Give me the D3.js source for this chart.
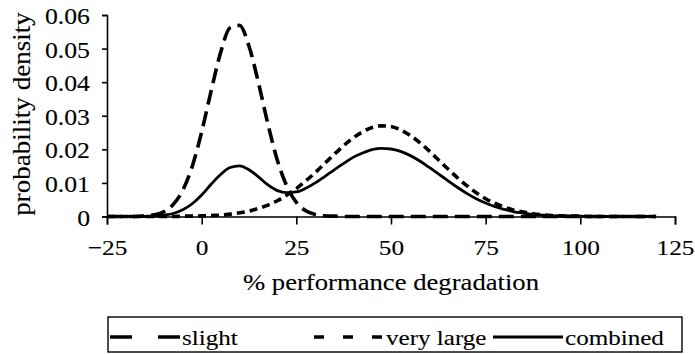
<!DOCTYPE html>
<html>
<head>
<meta charset="utf-8">
<script src="https://cdn.jsdelivr.net/npm/d3@7"></script>
<style>
  html, body { margin: 0; padding: 0; background: #fff; }
  svg { display: block; }
  svg text { font-family: "Liberation Serif", "Times New Roman", Times, serif; fill: #000; stroke: #000; stroke-width: 0.12px; }
</style>
</head>
<body>
<svg id="chart" width="695" height="354"></svg>
<script>
// ---- data ----
const xValues = [-25, -22.5, -20, -17.5, -15, -12.5, -10, -7.5, -5, -2.5, 0, 2.5, 5, 7.5, 10, 12.5, 15, 17.5, 20, 22.5, 25, 27.5, 30, 32.5, 35, 37.5, 40, 42.5, 45, 47.5, 50, 52.5, 55, 57.5, 60, 62.5, 65, 67.5, 70, 72.5, 75, 77.5, 80, 82.5, 85, 87.5, 90, 92.5, 95, 97.5, 100, 102.5, 105, 107.5, 110, 112.5, 115, 117.5, 120];

const slight = [0, 0, 0, 0, 0.0002, 0.0005, 0.0014, 0.0036, 0.0078, 0.0149, 0.0252, 0.0374, 0.0488, 0.0562, 0.0569, 0.0507, 0.0398, 0.0275, 0.0167, 0.0090, 0.0042, 0.0017, 0.0006, 0.0002, 0.0001, 0, 0, 0, 0, 0, 0, 0, 0, 0, 0, 0, 0, 0, 0, 0, 0, 0, 0, 0, 0, 0, 0, 0, 0, 0, 0, 0, 0, 0, 0, 0, 0, 0, 0];

const veryLarge = [0, 0, 0, 0, 0, 0, 0, 0, 0.0001, 0.0001, 0.0002, 0.0003, 0.0004, 0.0007, 0.0011, 0.0016, 0.0024, 0.0034, 0.0047, 0.0064, 0.0083, 0.0106, 0.0131, 0.0158, 0.0185, 0.0211, 0.0234, 0.0252, 0.0265, 0.0270, 0.0268, 0.0258, 0.0242, 0.0221, 0.0196, 0.0169, 0.0142, 0.0116, 0.0092, 0.0071, 0.0053, 0.0039, 0.0028, 0.0019, 0.0013, 0.0008, 0.0005, 0.0003, 0.0002, 0.0001, 0.0001, 0, 0, 0, 0, 0, 0, 0, 0];

const combined = [0, 0, 0, 0, 0, 0.0001, 0.0004, 0.0009, 0.0020, 0.0038, 0.0064, 0.0096, 0.0125, 0.0146, 0.0151, 0.0139, 0.0118, 0.0094, 0.0077, 0.0071, 0.0073, 0.0084, 0.0100, 0.0119, 0.0139, 0.0158, 0.0176, 0.0189, 0.0199, 0.0203, 0.0201, 0.0194, 0.0182, 0.0166, 0.0147, 0.0127, 0.0107, 0.0087, 0.0069, 0.0053, 0.0040, 0.0029, 0.0021, 0.0014, 0.0010, 0.0006, 0.0004, 0.0002, 0.0002, 0.0001, 0.0001, 0, 0, 0, 0, 0, 0, 0, 0];

const seriesNames = ["slight", "very large", "combined"];
const xTicks = [-25, 0, 25, 50, 75, 100, 125];
const yTicks = [0, 0.01, 0.02, 0.03, 0.04, 0.05, 0.06];
const xTitle = "% performance degradation";
const yTitle = "probability density";

// ---- layout ----
const FONT = "Liberation Serif";
const svg = d3.select("#chart");
const x = d3.scaleLinear().domain([-25, 125]).range([107, 675]);
const y = d3.scaleLinear().domain([0, 0.06]).range([216.5, 15]);

const styles = {
  "slight":     { dash: "15,7", width: 3.6, legendDash: "22,26" },
  "very large": { dash: "8,5",  width: 3.6, legendDash: "10,19" },
  "combined":   { dash: null,   width: 2.8, legendDash: null }
};
const seriesData = [slight, veryLarge, combined];

// reference text is slightly widened horizontally
function stretch(sel, sx) {
  sel.each(function() {
    const t = d3.select(this);
    const tx = +t.attr("data-x"), ty = +t.attr("data-y"), rot = +(t.attr("data-rot") || 0);
    t.attr("font-family", FONT)
     .attr("transform", `translate(${tx},${ty}) rotate(${rot}) scale(${sx},1)`);
  });
}

// axes
const yAxis = d3.axisLeft(y).tickValues(yTicks).tickSize(5).tickFormat(d => d === 0 ? "0" : d3.format(".2f")(d));
const gy = svg.append("g").attr("transform", `translate(${x(-25)},0)`).call(yAxis);
gy.attr("font-family", FONT);
gy.select(".domain").attr("stroke", "#000").attr("stroke-width", 1.6);
gy.selectAll(".tick line").attr("stroke", "#000").attr("stroke-width", 1.6);
gy.selectAll(".tick text")
  .attr("x", null).attr("dy", null).attr("y", null)
  .attr("font-size", 23).attr("text-anchor", "end")
  .attr("data-x", -17).attr("data-y", 8.5)
  .call(stretch, 1.12);

const xAxis = d3.axisBottom(x).tickValues(xTicks).tickSize(8).tickFormat(d3.format("d"));
const gx = svg.append("g").attr("transform", `translate(0,${y(0)})`).call(xAxis);
gx.attr("font-family", FONT);
gx.select(".domain").attr("stroke", "#000").attr("stroke-width", 1.6);
gx.selectAll(".tick line").attr("stroke", "#000").attr("stroke-width", 1.6);
gx.selectAll(".tick text")
  .attr("x", null).attr("dy", null).attr("y", null)
  .attr("font-size", 22).attr("text-anchor", "middle")
  .attr("data-x", 0).attr("data-y", 38)
  .call(stretch, 1.15);

// axis titles
svg.append("text").text(xTitle)
  .attr("font-size", 23).attr("text-anchor", "middle")
  .attr("data-x", x(50)).attr("data-y", 290)
  .call(stretch, 1.16);
svg.append("text").text(yTitle)
  .attr("font-size", 26).attr("text-anchor", "middle")
  .attr("data-x", 30).attr("data-y", 114).attr("data-rot", -90)
  .call(stretch, 1.04);

// curves
const line = d3.line()
  .x((d, i) => x(xValues[i]))
  .y(d => y(d))
  .curve(d3.curveMonotoneX);

seriesNames.forEach((name, k) => {
  const st = styles[name];
  svg.append("path")
    .datum(seriesData[k])
    .attr("d", line)
    .attr("fill", "none")
    .attr("stroke", "#000")
    .attr("stroke-width", st.width)
    .attr("stroke-dasharray", st.dash)
    .attr("stroke-linejoin", "round");
});

// legend
const legend = svg.append("g");
legend.append("rect")
  .attr("x", 108).attr("y", 317).attr("width", 574).attr("height", 35)
  .attr("fill", "#fff").attr("stroke", "#000").attr("stroke-width", 1.4);
const legendPos = [110, 314, 493];
seriesNames.forEach((name, k) => {
  const st = styles[name];
  const lx = legendPos[k];
  legend.append("line")
    .attr("x1", lx).attr("x2", lx + 70).attr("y1", 337).attr("y2", 337)
    .attr("stroke", "#000").attr("stroke-width", st.width)
    .attr("stroke-dasharray", st.legendDash);
  legend.append("text").text(name)
    .attr("font-size", 22).attr("text-anchor", "start")
    .attr("data-x", lx + 72).attr("data-y", 344.5)
    .call(stretch, 1.14);
});
</script>
</body>
</html>
